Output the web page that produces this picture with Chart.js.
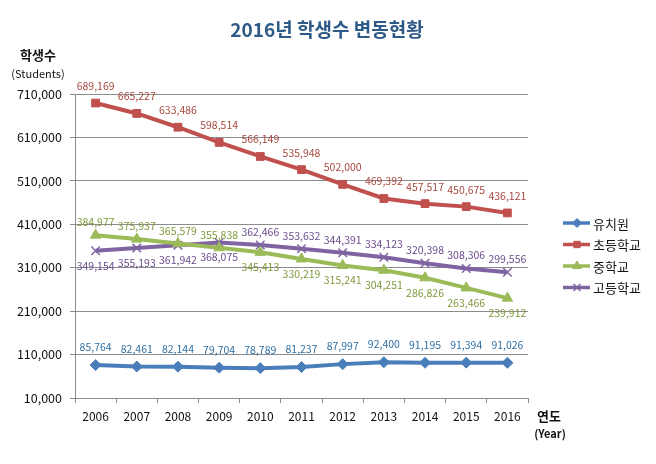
<!DOCTYPE html>
<html>
<head>
<meta charset="utf-8">
<script src="https://cdn.jsdelivr.net/npm/chart.js@4/dist/chart.umd.min.js"></script>
<style>
  html, body { margin: 0; padding: 0; background: #fff; }
  #wrap { width: 656px; height: 464px; position: relative; }
</style>
</head>
<body>
<div id="wrap"><canvas id="c" width="656" height="464"></canvas></div>
<script>
// ── Data ──
const years = ['2006', '2007', '2008', '2009', '2010', '2011', '2012', '2013', '2014', '2015', '2016'];
const kinder = [85764, 82461, 82144, 79704, 78789, 81237, 87997, 92400, 91195, 91394, 91026];
const elementary = [689169, 665227, 633486, 598514, 566149, 535948, 502000, 469392, 457517, 450675, 436121];
const middle = [384977, 375937, 365579, 355838, 345413, 330219, 315241, 304251, 286826, 263466, 239912];
const high = [349154, 355193, 361942, 368075, 362466, 353632, 344391, 334123, 320398, 308306, 299556];
const seriesNames = ['유치원', '초등학교', '중학교', '고등학교'];
const yTicks = [10000, 110000, 210000, 310000, 410000, 510000, 610000, 710000];

const FONT = '"Noto Sans CJK KR", "Noto Sans", sans-serif';
const GRID = '#8c8c8c';

// label side: -1 above, +1 below
const mkSide = fn => years.map((_, i) => fn(i));

const datasets = [
    { label: seriesNames[0], data: kinder, borderColor: '#4a7ebb', backgroundColor: '#4a7ebb',
      pointStyle: 'rectRot', pointRadius: 5.5, labelColor: '#2f6fa3', side: mkSide(() => -1), gap: 18 },
    { label: seriesNames[1], data: elementary, borderColor: '#c0504d', backgroundColor: '#c0504d',
      pointStyle: 'rect', pointRadius: 5.5, labelColor: '#a8483f', side: mkSide(() => -1), gap: 17 },
    { label: seriesNames[2], data: middle, borderColor: '#9bbb59', backgroundColor: '#9bbb59',
      pointStyle: 'triangle', pointRadius: 6, labelColor: '#7f9a3c', side: mkSide(i => i < 4 ? -1 : 1), gap: 13 },
    { label: seriesNames[3], data: high, borderColor: '#8064a2', backgroundColor: '#8064a2',
      pointStyle: 'crossRot', pointRadius: 6, pointBorderWidth: 1.5, labelColor: '#6a4c8c', side: mkSide(i => i < 4 ? 1 : -1), gap: 13 },
].map(d => Object.assign({ borderWidth: 4, tension: 0, pointBorderWidth: 1 }, d));

// ── Data labels ──
const valueLabels = {
    id: 'valueLabels',
    afterDatasetsDraw(chart) {
        const ctx = chart.ctx;
        ctx.save();
        ctx.font = '10.5px ' + FONT;
        ctx.textAlign = 'center';
        ctx.textBaseline = 'middle';
        chart.data.datasets.forEach((ds, di) => {
            chart.getDatasetMeta(di).data.forEach((pt, i) => {
                ctx.fillStyle = ds.labelColor;
                const below = ds.side[i] > 0;
                const dy = below ? ds.gap + 2 : -ds.gap;
                ctx.fillText(ds.data[i].toLocaleString('en-US'), pt.x, pt.y + dy);
            });
        });
        ctx.restore();
    }
};

// ── Titles + legend ──
const decorations = {
    id: 'decorations',
    afterDraw(chart) {
        const ctx = chart.ctx;
        ctx.save();
        ctx.textAlign = 'center';
        ctx.textBaseline = 'middle';
        ctx.fillStyle = '#2e5a87';
        ctx.font = 'bold 19px ' + FONT;
        ctx.fillText('2016년 학생수 변동현황', 327, 30);

        ctx.fillStyle = '#111';
        ctx.font = 'bold 13px ' + FONT;
        ctx.fillText('학생수', 38, 55);
        ctx.font = '11px ' + FONT;
        ctx.fillText('(Students)', 38, 74);
        ctx.font = 'bold 13px ' + FONT;
        ctx.fillText('연도', 549, 416);
        ctx.font = 'bold 11px ' + FONT;
        ctx.fillText('(Year)', 550, 434);

        // legend
        ctx.textAlign = 'left';
        ctx.font = '13px ' + FONT;
        chart.data.datasets.forEach((ds, i) => {
            const y = 223 + i * 21.5;
            ctx.strokeStyle = ds.borderColor;
            ctx.lineWidth = 3.5;
            ctx.beginPath(); ctx.moveTo(563, y); ctx.lineTo(590, y); ctx.stroke();
            ctx.fillStyle = ds.backgroundColor;
            ctx.lineWidth = ds.pointBorderWidth;
            Chart.helpers.drawPoint(ctx, { pointStyle: ds.pointStyle, radius: ds.pointRadius - 1, borderWidth: ds.pointBorderWidth, rotation: 0 }, 577, y);
            ctx.fillStyle = '#111';
            ctx.fillText(ds.label, 593, y + 1);
        });
        ctx.restore();
    }
};

new Chart(document.getElementById('c'), {
    type: 'line',
    data: { labels: years, datasets },
    options: {
        responsive: false, animation: false,
        layout: { padding: { top: 94, right: 128, left: 0, bottom: 0 } },
        plugins: { legend: { display: false }, tooltip: { enabled: false } },
        scales: {
            x: {
                offset: true,
                grid: { offset: true, drawOnChartArea: false, drawTicks: true, tickLength: 5, color: GRID },
                border: { color: GRID },
                ticks: { color: '#111', font: { family: FONT, size: 12 }, padding: 6, maxRotation: 0 },
                afterFit: s => { s.height = 66; }
            },
            y: {
                min: yTicks[0], max: yTicks[yTicks.length - 1],
                afterBuildTicks: s => { s.ticks = yTicks.map(v => ({ value: v })); },
                grid: { color: GRID, tickLength: 5 },
                border: { color: GRID },
                ticks: { color: '#111', font: { family: FONT, size: 12.5 }, padding: 8,
                         callback: v => v.toLocaleString('en-US') },
                afterFit: s => { s.width = 75; }
            }
        }
    },
    plugins: [valueLabels, decorations]
});
</script>
</body>
</html>
